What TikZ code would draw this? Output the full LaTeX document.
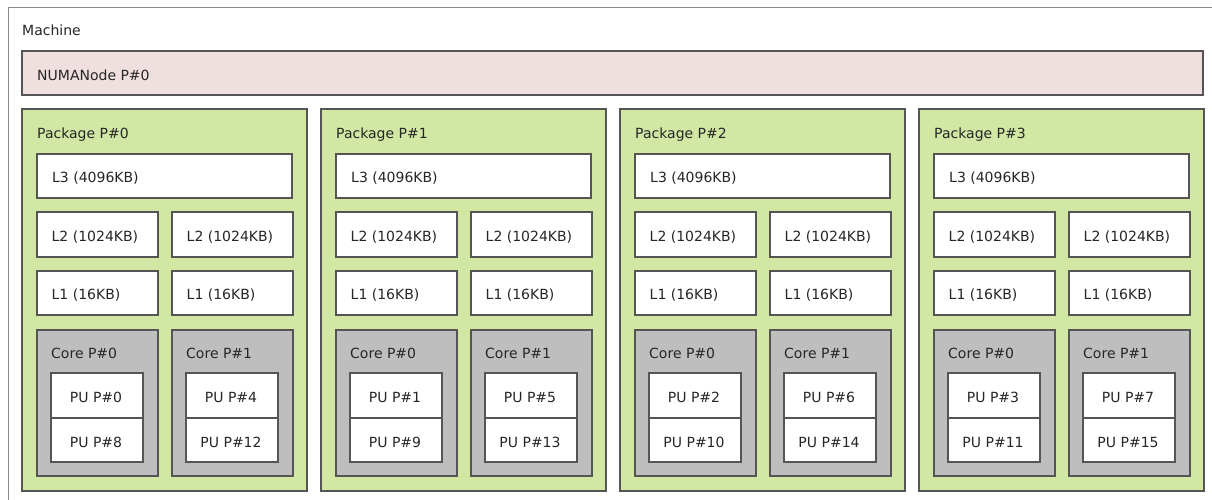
\documentclass[tikz,border=0pt]{standalone}
\usepackage{fontspec}
\setmainfont{DejaVu Sans}
\definecolor{numafill}{HTML}{EFDFDE}
\definecolor{pkgfill}{HTML}{D2E7A4}
\definecolor{corefill}{HTML}{BEBEBE}
\definecolor{edgecol}{HTML}{555555}
\begin{document}
\begin{tikzpicture}[x=1pt,y=-1pt,
  box/.style={draw=edgecol, line width=1.8pt, inner sep=0pt, anchor=north west},
  lbl/.style={anchor=base west, inner sep=0pt, font=\fontsize{14}{16}\selectfont, text=black!85},
  clbl/.style={anchor=base, inner sep=0pt, font=\fontsize{14}{16}\selectfont, text=black!85}]
\useasboundingbox (0,0) rectangle (1212,499);
\node[box, draw=black!45, line width=1.1pt, fill=white, minimum width=1215pt, minimum height=500pt] (machine) at (8,7) {};
\node[lbl] (machinelbl) at (22,35) {Machine};
\node[box, fill=numafill, minimum width=1181pt, minimum height=44pt] (numa) at (21,50) {};
\node[lbl] (numalbl) at (37,80) {NUMANode P\#0};
\foreach \i in {0,1,2,3} {
  \pgfmathsetmacro{\X}{21+299*\i}
  \pgfmathtruncatemacro{\pa}{\i}
  \pgfmathtruncatemacro{\pb}{\i+8}
  \pgfmathtruncatemacro{\pc}{\i+4}
  \pgfmathtruncatemacro{\pd}{\i+12}
  \node[box, fill=pkgfill, minimum width=285pt, minimum height=382pt] (pkg\i) at (\X,108) {};
  \node[lbl] (pkglbl\i) at (\X+16,138) {Package P\#\i};
  \node[box, fill=white, minimum width=255pt, minimum height=44pt] (lthree\i) at (\X+15,153) {};
  \node[lbl] (lthreelbl\i) at (\X+31,182) {L3 (4096KB)};
  \foreach \c/\dx/\pu/\pv in {0/0/\pa/\pb, 1/135/\pc/\pd} {
    \node[box, fill=white, minimum width=121pt, minimum height=45pt] (ltwo\i\c) at (\X+15+\dx,211) {};
    \node[lbl] (ltwolbl\i\c) at (\X+30.5+\dx,241) {L2 (1024KB)};
    \node[box, fill=white, minimum width=121pt, minimum height=44pt] (lone\i\c) at (\X+15+\dx,270) {};
    \node[lbl] (lonelbl\i\c) at (\X+30.5+\dx,299) {L1 (16KB)};
    \node[box, fill=corefill, minimum width=121pt, minimum height=146pt] (core\i\c) at (\X+15+\dx,329) {};
    \node[lbl] (corelbl\i\c) at (\X+30+\dx,358) {Core P\#\c};
    \node[box, fill=white, minimum width=92pt, minimum height=45pt] (pua\i\c) at (\X+29+\dx,372) {};
    \node[clbl] (pualbl\i\c) at (\X+75+\dx,402) {PU P\#\pu};
    \node[box, fill=white, minimum width=92pt, minimum height=44pt] (pub\i\c) at (\X+29+\dx,417) {};
    \node[clbl] (publbl\i\c) at (\X+75+\dx,447) {PU P\#\pv};
  }
}
\end{tikzpicture}
\end{document}
